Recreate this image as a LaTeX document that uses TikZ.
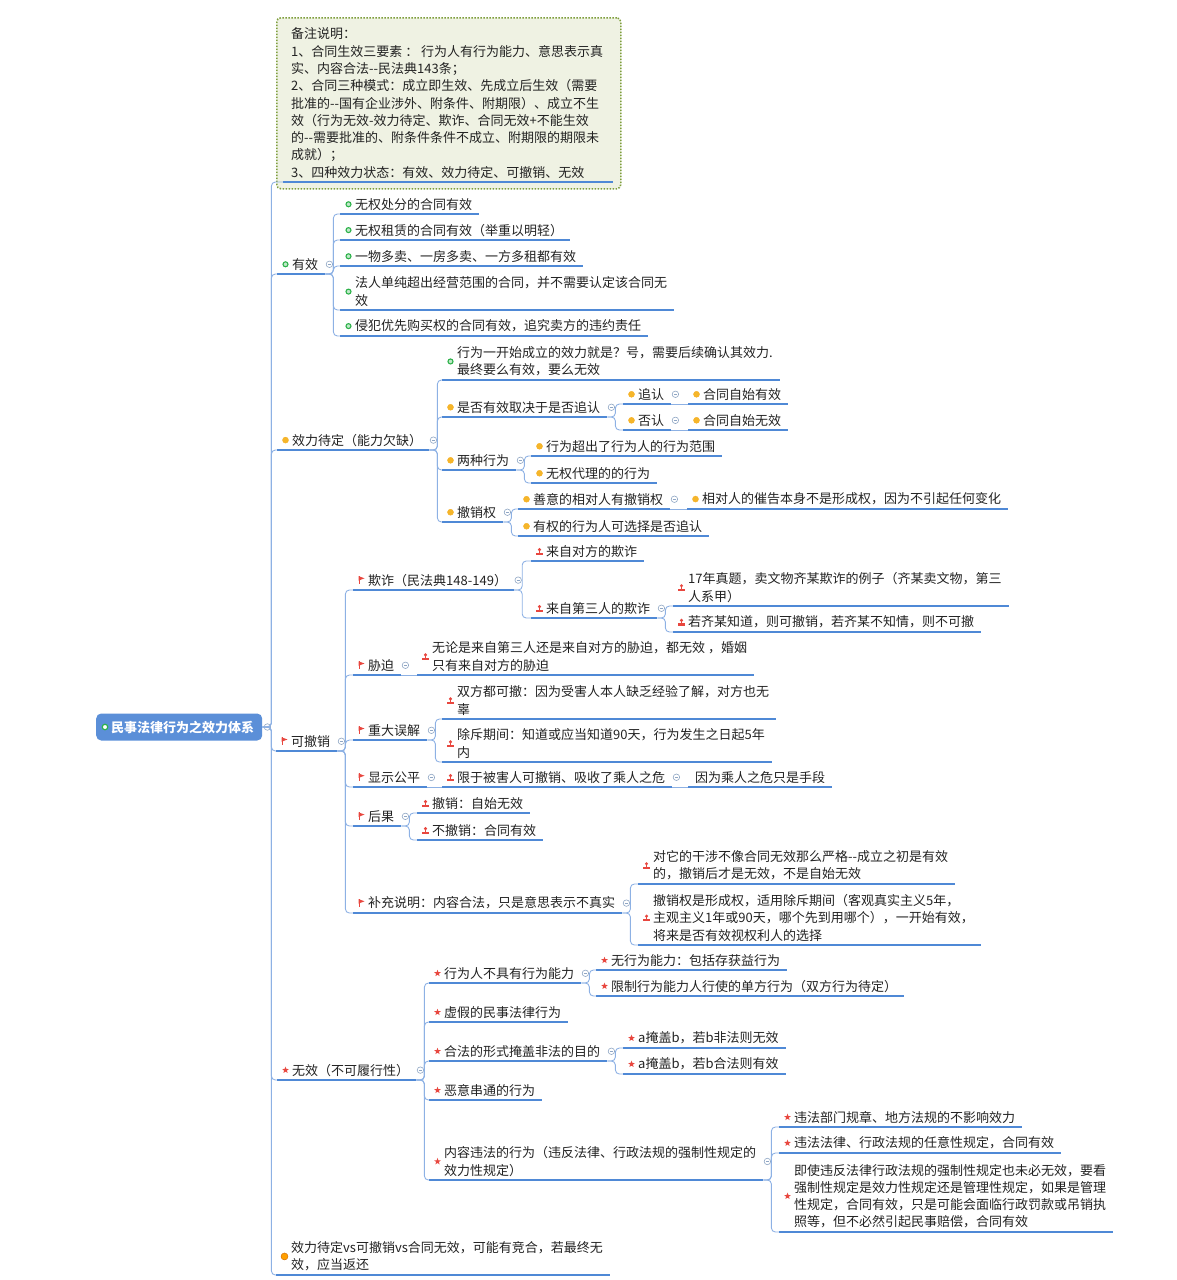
\documentclass[tikz,border=0pt]{standalone}
\usepackage{fontspec}
\newfontfamily\cjkfont{Noto Sans CJK SC}
\usetikzlibrary{shapes.geometric}
\newcommand\mapfont{\cjkfont\fontsize{13}{17.3}\selectfont}

\definecolor{ink}{HTML}{222222}
\definecolor{ulblue}{HTML}{4F89D6}
\definecolor{linkblue}{HTML}{8DB1E4}
\definecolor{rootblue}{HTML}{5B8FD8}
\definecolor{okgreen}{HTML}{2DB24A}
\definecolor{waityellow}{HTML}{F5B62A}
\definecolor{markred}{HTML}{E8473F}
\definecolor{foldgray}{HTML}{8FA6C4}
\definecolor{memofill}{HTML}{EFF2E3}
\definecolor{memogreen}{HTML}{7E9E3C}

\tikzset{
  txt/.style={inner xsep=0pt, inner ysep=3.5pt, align=left, text=ink, font=\mapfont},
  uline/.style={draw=ulblue, line width=1.5pt},
  topic/.style={txt, anchor=south west,
    append after command={([xshift=-15pt]\tikzlastnode.south west) edge[uline] ([xshift=7pt]\tikzlastnode.south east)}},
  bare/.style={txt, anchor=south west,
    append after command={([xshift=-7pt]\tikzlastnode.south west) edge[uline] ([xshift=7pt]\tikzlastnode.south east)}},
  root/.style={anchor=west, rounded corners=5pt, fill=rootblue, text=white, font=\mapfont\bfseries,
    minimum height=27pt, inner xsep=8pt},
  memobox/.style={anchor=north west, draw=memogreen, fill=memofill, line width=1.5pt,
    dash pattern=on 1.5pt off 1.5pt, rounded corners=4pt, minimum width=344pt, minimum height=171pt},
  mk/.style={anchor=center, inner sep=0pt, xshift=-6.5pt},
  okmark/.style={label={[mk, circle, draw=okgreen, fill=okgreen!30, line width=1.1pt, minimum size=5pt]west:{}}},
  waitmark/.style={label={[mk, circle, draw=waityellow!85!orange, fill=waityellow, minimum size=6pt]west:{}}},
  orangemark/.style={label={[mk, circle, draw=orange!80!black, fill=orange!75!yellow, minimum size=7pt]west:{}}},
  starmark/.style={label={[mk, star, star points=5, star point ratio=2.4, fill=markred, minimum size=7pt]west:{}}},
  flagmark/.style={label={[mk, fill=white, minimum width=6pt, minimum height=8pt, path picture={
      \fill[markred] (path picture bounding box.north west) rectangle ([xshift=1pt]path picture bounding box.south west);
      \fill[markred] (path picture bounding box.north west) -- ([yshift=-2.2pt]path picture bounding box.north east)
        -- ([yshift=-4.5pt]path picture bounding box.north west) -- cycle;}]west:{}}},
  pinmark/.style={label={[mk, fill=white, minimum width=7pt, minimum height=7pt, path picture={
      \fill[markred] ([yshift=-1.8pt]path picture bounding box.north) circle (1.7pt);
      \fill[markred] ([xshift=-0.8pt,yshift=-3pt]path picture bounding box.north) rectangle ([xshift=0.8pt,yshift=2pt]path picture bounding box.south);
      \fill[markred] ([yshift=2.2pt]path picture bounding box.south west) rectangle (path picture bounding box.south east);}]west:{}}},
  foldmark/.style={anchor=center, xshift=11pt, circle, draw=foldgray, fill=white, line width=.6pt,
    minimum size=6.5pt, inner sep=0pt, path picture={\draw[foldgray, line width=.6pt]
      ([xshift=-1.6pt]path picture bounding box.center) -- ([xshift=1.6pt]path picture bounding box.center);}},
  foldable/.style={label={[foldmark]east:{}}},
  link/.style={draw=linkblue, line width=.9pt, rounded corners=4pt},
  trunk/.style={to path={(\tikztostart) -- ++(9pt,0) |- ([xshift=-15pt]\tikztotarget)}},
  branch/.style={to path={([xshift=7pt]\tikztostart) -- ++(8pt,0) |- ([xshift=-15pt]\tikztotarget)}},
  straight/.style={to path={([xshift=7pt]\tikztostart) -- ([xshift=-15pt]\tikztotarget)}},
}

\begin{document}
\begin{tikzpicture}[x=1pt, y=-1pt]
  \path[use as bounding box] (0,0) rectangle (1176,1280);

  \node[root, label={[mk, xshift=15.5pt, circle, draw=okgreen, fill=white, line width=1.2pt, minimum size=5.5pt]west:{}},
    label={[foldmark, xshift=-6pt]east:{}}] (root) at (96,727) {\hspace*{7pt}民事法律行为之效力体系};

  \node[memobox] (memo) at (276,17) {};
  \node[txt, anchor=south west] (notes) at (291,182) {备注说明：\\
    1、合同生效三要素 ： 行为人有行为能力、意思表示真\\
    实、内容合法-\kern0pt-民法典143条；\\
    2、合同三种模式：成立即生效、先成立后生效（需要\\
    批准的-\kern0pt-国有企业涉外、附条件、附期限）、成立不生\\
    效（行为无效-效力待定、欺诈、合同无效+不能生效\\
    的-\kern0pt-需要批准的、附条件条件不成立、附期限的期限未\\
    成就）；\\
    3、四种效力状态：有效、效力待定、可撤销、无效};
  \draw[uline] ([xshift=-8pt]notes.south west) -- ([xshift=10pt]notes.south east);

  \node[topic, okmark, foldable] (youxiao) at (292,274) {有效};
  \node[topic, okmark] (yx1) at (355,214) {无权处分的合同有效};
  \node[topic, okmark] (yx2) at (355,240) {无权租赁的合同有效（举重以明轻）};
  \node[topic, okmark] (yx3) at (355,266) {一物多卖、一房多卖、一方多租都有效};
  \node[topic, okmark] (yx4) at (355,310) {法人单纯超出经营范围的合同，并不需要认定该合同无\\效};
  \node[topic, okmark] (yx5) at (355,336) {侵犯优先购买权的合同有效，追究卖方的违约责任};

  \node[topic, waitmark, foldable] (daiding) at (292,450) {效力待定（能力欠缺）};
  \node[topic, okmark] (dd1) at (457,380) {行为一开始成立的效力就是？号，需要后续确认其效力.\\最终要么有效，要么无效};
  \node[topic, waitmark, foldable] (dd2) at (457,417) {是否有效取决于是否追认};
  \node[topic, waitmark, foldable] (zhuiren) at (638,404) {追认};
  \node[topic, waitmark] (zr1) at (703,404) {合同自始有效};
  \node[topic, waitmark, foldable] (fouren) at (638,430) {否认};
  \node[topic, waitmark] (fr1) at (703,430) {合同自始无效};
  \node[topic, waitmark, foldable] (dd3) at (457,470) {两种行为};
  \node[topic, waitmark] (lz1) at (546,456) {行为超出了行为人的行为范围};
  \node[topic, waitmark] (lz2) at (546,483) {无权代理的的行为};
  \node[topic, waitmark, foldable] (dd4) at (457,522) {撤销权};
  \node[topic, waitmark, foldable] (cx1) at (533,509) {善意的相对人有撤销权};
  \node[topic, waitmark] (cx1a) at (702,509) {相对人的催告本身不是形成权，因为不引起任何变化};
  \node[topic, waitmark] (cx2) at (533,536) {有权的行为人可选择是否追认};

  \node[topic, flagmark, foldable] (kecx) at (291,751) {可撤销};
  \node[topic, flagmark, foldable] (qizha) at (368,590) {欺诈（民法典148-149）};
  \node[topic, pinmark] (qz1) at (546,561) {来自对方的欺诈};
  \node[topic, pinmark, foldable] (qz2) at (546,618) {来自第三人的欺诈};
  \node[topic, pinmark] (qz2a) at (688,606) {17年真题，卖文物齐某欺诈的例子（齐某卖文物，第三\\人系甲）};
  \node[topic, pinmark] (qz2b) at (688,632) {若齐某知道，则可撤销，若齐某不知情，则不可撤};
  \node[topic, flagmark, foldable] (xiepo) at (368,675) {胁迫};
  \node[topic, pinmark] (xp1) at (432,675) {无论是来自第三人还是来自对方的胁迫，都无效 ，婚姻\\只有来自对方的胁迫};
  \node[topic, flagmark, foldable] (wujie) at (368,740) {重大误解};
  \node[topic, pinmark] (wj1) at (457,719) {双方都可撤：因为受害人本人缺乏经验了解，对方也无\\辜};
  \node[topic, pinmark] (wj2) at (457,762) {除斥期间：知道或应当知道90天，行为发生之日起5年\\内};
  \node[topic, flagmark, foldable] (gongping) at (368,787) {显示公平};
  \node[topic, pinmark, foldable] (gp1) at (457,787) {限于被害人可撤销、吸收了乘人之危};
  \node[bare] (gp1a) at (695,787) {因为乘人之危只是手段};
  \node[topic, flagmark, foldable] (houguo) at (368,826) {后果};
  \node[topic, pinmark] (hg1) at (432,813) {撤销：自始无效};
  \node[topic, pinmark] (hg2) at (432,840) {不撤销：合同有效};
  \node[topic, flagmark, foldable] (buchong) at (368,913) {补充说明：内容合法，只是意思表示不真实};
  \node[topic, pinmark] (bc1) at (653,884) {对它的干涉不像合同无效那么严格-\kern0pt-成立之初是有效\\的，撤销后才是无效，不是自始无效};
  \node[topic, pinmark] (bc2) at (653,945) {撤销权是形成权，适用除斥期间（客观真实主义5年，\\主观主义1年或90天，哪个先到用哪个），一开始有效，\\将来是否有效视权利人的选择};

  \node[topic, starmark, foldable] (wuxiao) at (292,1080) {无效（不可履行性）};
  \node[topic, starmark, foldable] (wx1) at (444,983) {行为人不具有行为能力};
  \node[topic, starmark] (wx1a) at (611,970) {无行为能力：包括存获益行为};
  \node[topic, starmark] (wx1b) at (611,996) {限制行为能力人行使的单方行为（双方行为待定）};
  \node[topic, starmark] (wx2) at (444,1022) {虚假的民事法律行为};
  \node[topic, starmark, foldable] (wx3) at (444,1061) {合法的形式掩盖非法的目的};
  \node[topic, starmark] (wx3a) at (638,1048) {a掩盖b，若b非法则无效};
  \node[topic, starmark] (wx3b) at (638,1074) {a掩盖b，若b合法则有效};
  \node[topic, starmark] (wx4) at (444,1100) {恶意串通的行为};
  \node[topic, starmark, foldable] (wx5) at (444,1180) {内容违法的行为（违反法律、行政法规的强制性规定的\\效力性规定）};
  \node[topic, starmark] (wx5a) at (794,1127) {违法部门规章、地方法规的不影响效力};
  \node[topic, starmark] (wx5b) at (794,1153) {违法法律、行政法规的任意性规定，合同有效};
  \node[topic, starmark] (wx5c) at (794,1232) {即使违反法律行政法规的强制性规定也未必无效，要看\\强制性规定是效力性规定还是管理性规定，如果是管理\\性规定，合同有效，只是可能会面临行政罚款或吊销执\\照等，但不必然引起民事赔偿，合同有效};

  \node[topic, orangemark] (jinghe) at (291,1275) {效力待定vs可撤销vs合同无效，可能有竞合，若最终无\\效，应当返还};

  \begin{scope}[link]
    \draw (root.east) -- ++(9pt,0) |- ([xshift=-8pt]notes.south west);
    \draw (root.east) to[trunk] (youxiao.south west);
    \draw (root.east) to[trunk] (daiding.south west);
    \draw (root.east) to[trunk] (kecx.south west);
    \draw (root.east) to[trunk] (wuxiao.south west);
    \draw (root.east) to[trunk] (jinghe.south west);
    \draw (youxiao.south east) to[branch] (yx1.south west);
    \draw (youxiao.south east) to[branch] (yx2.south west);
    \draw (youxiao.south east) to[branch] (yx3.south west);
    \draw (youxiao.south east) to[branch] (yx4.south west);
    \draw (youxiao.south east) to[branch] (yx5.south west);
    \draw (daiding.south east) to[branch] (dd1.south west);
    \draw (daiding.south east) to[branch] (dd2.south west);
    \draw (daiding.south east) to[branch] (dd3.south west);
    \draw (daiding.south east) to[branch] (dd4.south west);
    \draw (dd2.south east) to[branch] (zhuiren.south west);
    \draw (dd2.south east) to[branch] (fouren.south west);
    \draw (zhuiren.south east) to[straight] (zr1.south west);
    \draw (fouren.south east) to[straight] (fr1.south west);
    \draw (dd3.south east) to[branch] (lz1.south west);
    \draw (dd3.south east) to[branch] (lz2.south west);
    \draw (dd4.south east) to[branch] (cx1.south west);
    \draw (dd4.south east) to[branch] (cx2.south west);
    \draw (cx1.south east) to[straight] (cx1a.south west);
    \draw (kecx.south east) to[branch] (qizha.south west);
    \draw (kecx.south east) to[branch] (xiepo.south west);
    \draw (kecx.south east) to[branch] (wujie.south west);
    \draw (kecx.south east) to[branch] (gongping.south west);
    \draw (kecx.south east) to[branch] (houguo.south west);
    \draw (kecx.south east) to[branch] (buchong.south west);
    \draw (qizha.south east) to[branch] (qz1.south west);
    \draw (qizha.south east) to[branch] (qz2.south west);
    \draw (qz2.south east) to[branch] (qz2a.south west);
    \draw (qz2.south east) to[branch] (qz2b.south west);
    \draw (xiepo.south east) to[straight] (xp1.south west);
    \draw (wujie.south east) to[branch] (wj1.south west);
    \draw (wujie.south east) to[branch] (wj2.south west);
    \draw (gongping.south east) to[straight] (gp1.south west);
    \draw ([xshift=7pt]gp1.south east) -- ([xshift=-7pt]gp1a.south west);
    \draw (houguo.south east) to[branch] (hg1.south west);
    \draw (houguo.south east) to[branch] (hg2.south west);
    \draw (buchong.south east) to[branch] (bc1.south west);
    \draw (buchong.south east) to[branch] (bc2.south west);
    \draw (wuxiao.south east) to[branch] (wx1.south west);
    \draw (wuxiao.south east) to[branch] (wx2.south west);
    \draw (wuxiao.south east) to[branch] (wx3.south west);
    \draw (wuxiao.south east) to[branch] (wx4.south west);
    \draw (wuxiao.south east) to[branch] (wx5.south west);
    \draw (wx1.south east) to[branch] (wx1a.south west);
    \draw (wx1.south east) to[branch] (wx1b.south west);
    \draw (wx3.south east) to[branch] (wx3a.south west);
    \draw (wx3.south east) to[branch] (wx3b.south west);
    \draw (wx5.south east) to[branch] (wx5a.south west);
    \draw (wx5.south east) to[branch] (wx5b.south west);
    \draw (wx5.south east) to[branch] (wx5c.south west);
  \end{scope}
\end{tikzpicture}
\end{document}
